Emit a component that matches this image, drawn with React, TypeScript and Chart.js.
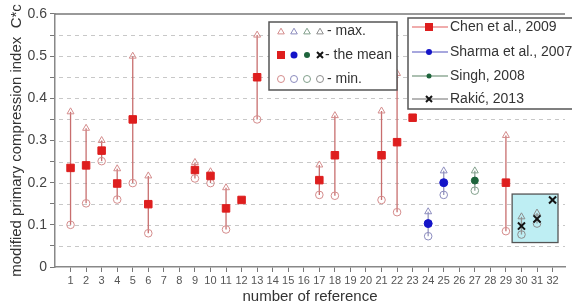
import React, { useEffect, useRef } from "react";
import { Chart, registerables } from "chart.js";

Chart.register(...registerables);

// ---- data ----
const chenRef = [1, 2, 3, 4, 5, 6, 9, 10, 11, 12, 13, 17, 18, 21, 22, 23, 29];
const chenMean = [0.235, 0.241, 0.276, 0.198, 0.35, 0.149, 0.23, 0.216, 0.139, 0.159, 0.45, 0.206, 0.265, 0.265, 0.296, 0.354, 0.2];
const chenMax = [0.368, 0.329, 0.3, 0.233, 0.5, 0.216, 0.248, 0.226, 0.188, null, 0.55, 0.242, 0.359, 0.37, 0.459, null, 0.312];
const chenMin = [0.1, 0.151, 0.251, 0.16, 0.199, 0.08, 0.21, 0.199, 0.089, null, 0.35, 0.171, 0.169, 0.159, 0.13, null, 0.085];

const sharmaRef = [24, 25];
const sharmaMean = [0.103, 0.2];
const sharmaMax = [0.131, 0.228];
const sharmaMin = [0.073, 0.171];

const singhRef = [27];
const singhMean = [0.205];
const singhMax = [0.228];
const singhMin = [0.181];

const rakicRef = [30, 31, 32];
const rakicMean = [0.097, 0.114, 0.159];
const rakicMax = [0.119, 0.128, null];
const rakicMin = [0.077, 0.103, null];

const yTicks = [0, 0.1, 0.2, 0.3, 0.4, 0.5, 0.6];
const yGridLines = [0.05, 0.1, 0.15, 0.2, 0.25, 0.3, 0.35, 0.4, 0.45, 0.5, 0.55];
const xTicks = Array.from({ length: 32 }, (_, i) => i + 1);

const seriesNames = ["Chen et al., 2009", "Sharma et al., 2007", "Singh, 2008", "Rakić, 2013"];
const statNames = ["- max.", "- the mean", "- min."];

const FONT = "'Liberation Sans', Arial, sans-serif";

type Series = {
  ref: number[];
  mean: number[];
  max: (number | null)[];
  min: (number | null)[];
  color: string;
  light: string;
  line: string;
  style: string;
  radius: number;
  bw: number;
};

const series: Series[] = [
  { ref: chenRef, mean: chenMean, max: chenMax, min: chenMin, color: "rgb(222,30,30)", light: "rgb(212,140,140)", line: "rgb(200,110,110)", style: "rect", radius: 5.3, bw: 1 },
  { ref: sharmaRef, mean: sharmaMean, max: sharmaMax, min: sharmaMin, color: "rgb(20,20,200)", light: "rgb(140,140,190)", line: "rgb(150,150,190)", style: "circle", radius: 4, bw: 1 },
  { ref: singhRef, mean: singhMean, max: singhMax, min: singhMin, color: "rgb(30,100,60)", light: "rgb(130,160,140)", line: "rgb(140,160,150)", style: "circle", radius: 3.5, bw: 1 },
  { ref: rakicRef, mean: rakicMean, max: rakicMax, min: rakicMin, color: "rgb(20,20,20)", light: "rgb(140,140,140)", line: "rgb(150,150,150)", style: "crossRot", radius: 5, bw: 2 },
];

const pts = (xs: number[], ys: (number | null)[]) =>
  xs.map((x, i) => ({ x, y: ys[i] })).filter((p) => p.y !== null) as { x: number; y: number }[];

function drawMarker(ctx: CanvasRenderingContext2D, style: string, x: number, y: number, r: number, color: string, fill: boolean, lw = 1) {
  ctx.save();
  ctx.strokeStyle = color;
  ctx.fillStyle = color;
  ctx.lineWidth = lw;
  ctx.beginPath();
  if (style === "triangle") {
    ctx.moveTo(x, y - r);
    ctx.lineTo(x + r * 0.87, y + r * 0.5);
    ctx.lineTo(x - r * 0.87, y + r * 0.5);
    ctx.closePath();
  } else if (style === "rect") {
    ctx.rect(x - r, y - r, 2 * r, 2 * r);
  } else if (style === "circle") {
    ctx.arc(x, y, r, 0, Math.PI * 2);
  } else if (style === "cross") {
    ctx.moveTo(x - r, y - r);
    ctx.lineTo(x + r, y + r);
    ctx.moveTo(x + r, y - r);
    ctx.lineTo(x - r, y + r);
  }
  if (fill && style !== "cross") ctx.fill();
  else ctx.stroke();
  ctx.restore();
}

const decorPlugin = {
  id: "decor",
  beforeDatasetsDraw(chart: any) {
    const { ctx, scales } = chart;
    const xs = scales.x;
    const ys = scales.y;
    const area = chart.chartArea;
    ctx.save();
    // dashed horizontal grid
    ctx.strokeStyle = "#c8c8c8";
    ctx.lineWidth = 1;
    ctx.setLineDash([4, 4]);
    yGridLines.forEach((v) => {
      const py = Math.round(ys.getPixelForValue(v)) + 0.5;
      ctx.beginPath();
      ctx.moveTo(area.left + 4, py);
      ctx.lineTo(area.right, py);
      ctx.stroke();
    });
    ctx.setLineDash([]);
    // top frame line
    ctx.strokeStyle = "#777";
    ctx.lineWidth = 1.5;
    ctx.beginPath();
    ctx.moveTo(area.left, area.top);
    ctx.lineTo(area.right, area.top);
    ctx.stroke();
    // inset box around Rakić points
    const bx1 = xs.getPixelForValue(29.4);
    const bx2 = xs.getPixelForValue(32.35);
    const by1 = ys.getPixelForValue(0.173);
    const by2 = ys.getPixelForValue(0.058);
    ctx.fillStyle = "rgb(190,238,243)";
    ctx.fillRect(bx1, by1, bx2 - bx1, by2 - by1);
    ctx.strokeStyle = "#555";
    ctx.lineWidth = 1.3;
    ctx.strokeRect(bx1, by1, bx2 - bx1, by2 - by1);
    // error bars
    series.forEach((s) => {
      ctx.strokeStyle = s.line;
      ctx.lineWidth = 1.3;
      s.ref.forEach((r, i) => {
        const hi = s.max[i];
        const lo = s.min[i];
        if (hi === null || lo === null) return;
        const px = xs.getPixelForValue(r);
        ctx.beginPath();
        ctx.moveTo(px, ys.getPixelForValue(hi));
        ctx.lineTo(px, ys.getPixelForValue(lo));
        ctx.stroke();
      });
    });
    ctx.restore();
  },
  afterDraw(chart: any) {
    const ctx = chart.ctx as CanvasRenderingContext2D;
    ctx.save();
    ctx.font = `14px ${FONT}`;
    ctx.textBaseline = "middle";
    // left legend (statistics)
    ctx.fillStyle = "#fff";
    ctx.fillRect(269, 22, 128, 68);
    ctx.strokeStyle = "#555";
    ctx.lineWidth = 1.5;
    ctx.strokeRect(269, 22, 128, 68);
    const mx = [281, 294, 307, 320];
    const rows = [31, 55, 79];
    series.forEach((s, k) => {
      drawMarker(ctx, "triangle", mx[k], rows[0] + 1, 3.8, s.light, false);
      if (s.style === "rect") drawMarker(ctx, "rect", mx[k], rows[1], 4, s.color, true);
      else if (s.style === "circle") drawMarker(ctx, "circle", mx[k], rows[1], s.radius - 0.5, s.color, true);
      else drawMarker(ctx, "cross", mx[k], rows[1], 3, s.color, false, 2);
      drawMarker(ctx, "circle", mx[k], rows[2], 3.5, s.light, false);
    });
    ctx.fillStyle = "#333";
    ctx.fillText(statNames[0], 327, rows[0]);
    ctx.fillText(statNames[1], 325, rows[1]);
    ctx.fillText(statNames[2], 327, rows[2]);
    // right legend (references)
    ctx.fillStyle = "#fff";
    ctx.fillRect(408, 18, 170, 91);
    ctx.strokeStyle = "#555";
    ctx.lineWidth = 1.5;
    ctx.strokeRect(408, 18, 170, 91);
    const ry = [27, 52, 76, 99];
    const lineCols = ["rgb(225,90,90)", "rgb(80,80,190)", "rgb(90,130,100)", "rgb(110,110,110)"];
    series.forEach((s, k) => {
      ctx.strokeStyle = lineCols[k];
      ctx.lineWidth = 1.2;
      ctx.beginPath();
      ctx.moveTo(412, ry[k]);
      ctx.lineTo(448, ry[k]);
      ctx.stroke();
      if (s.style === "rect") drawMarker(ctx, "rect", 429, ry[k], 4, s.color, true);
      else if (s.style === "circle") drawMarker(ctx, "circle", 429, ry[k], s.radius - 1, s.color, true);
      else drawMarker(ctx, "cross", 429, ry[k], 3, s.color, false, 2);
      ctx.fillStyle = "#333";
      ctx.fillText(seriesNames[k], 450, ry[k]);
    });
    ctx.restore();
  },
};

export default function App() {
  const ref = useRef<HTMLCanvasElement>(null);
  useEffect(() => {
    if (!ref.current) return;
    const datasets: any[] = [];
    series.forEach((s) => {
      datasets.push({
        label: "mean",
        data: pts(s.ref, s.mean),
        pointStyle: s.style,
        pointRadius: s.radius,
        pointBackgroundColor: s.color,
        pointBorderColor: s.color,
        pointBorderWidth: s.bw,
        showLine: false,
      });
    });
    series.forEach((s) => {
      datasets.push({
        label: "max",
        data: pts(s.ref, s.max),
        pointStyle: "triangle",
        pointRadius: 4,
        pointBackgroundColor: "rgba(0,0,0,0)",
        pointBorderColor: s.light,
        pointBorderWidth: 1,
        showLine: false,
      });
      datasets.push({
        label: "min",
        data: pts(s.ref, s.min),
        pointStyle: "circle",
        pointRadius: 3.8,
        pointBackgroundColor: "rgba(0,0,0,0)",
        pointBorderColor: s.light,
        pointBorderWidth: 1,
        showLine: false,
      });
    });

    const chart = new Chart(ref.current, {
      type: "scatter",
      data: { datasets },
      plugins: [decorPlugin],
      options: {
        animation: false,
        responsive: true,
        maintainAspectRatio: false,
        layout: { padding: { top: 14, left: 0, right: 0, bottom: 0 } },
        plugins: { legend: { display: false }, tooltip: { enabled: false } },
        scales: {
          x: {
            type: "linear",
            min: 0,
            max: 32.8,
            afterFit: (s: any) => {
              s.height = 40;
            },
            afterBuildTicks: (s: any) => {
              s.ticks = xTicks.map((v) => ({ value: v }));
            },
            ticks: {
              autoSkip: false,
              maxRotation: 0,
              padding: 2,
              color: "#555",
              font: { family: FONT, size: 11 },
              callback: (v: any) => String(v),
            },
            grid: { drawOnChartArea: false, drawTicks: true, tickLength: 5, tickColor: "#777" },
            border: { color: "#888", width: 1.5 },
            title: {
              display: true,
              text: "number of reference",
              color: "#333",
              font: { family: FONT, size: 15 },
              padding: { top: 0, bottom: 1 },
            },
          },
          y: {
            min: 0,
            max: 0.6,
            afterFit: (s: any) => {
              s.width = 55;
            },
            afterBuildTicks: (s: any) => {
              const t: any[] = [];
              for (let i = 0; i <= 12; i++) t.push({ value: i * 0.05 });
              s.ticks = t;
            },
            ticks: {
              padding: 3,
              color: "#444",
              font: { family: FONT, size: 14 },
              callback: (v: any) => {
                const n = Number(v);
                const hit = yTicks.find((t) => Math.abs(t - n) < 1e-6);
                if (hit === undefined) return "";
                return hit === 0 ? "0" : hit.toFixed(1);
              },
            },
            grid: {
              drawOnChartArea: false,
              tickColor: "#777",
              tickLength: 5,
              lineWidth: 1,
            },
            border: { color: "#888", width: 1.5 },
            title: {
              display: true,
              text: "modified primary compression index  C*c",
              color: "#333",
              font: { family: FONT, size: 15 },
              padding: { top: 8, bottom: 0 },
            },
          },
        },
      } as any,
    });
    return () => chart.destroy();
  }, []);

  return (
    <div style={{ position: "fixed", left: 0, top: 0, width: 572, height: 307, background: "#fff" }}>
      <canvas ref={ref} />
    </div>
  );
}
